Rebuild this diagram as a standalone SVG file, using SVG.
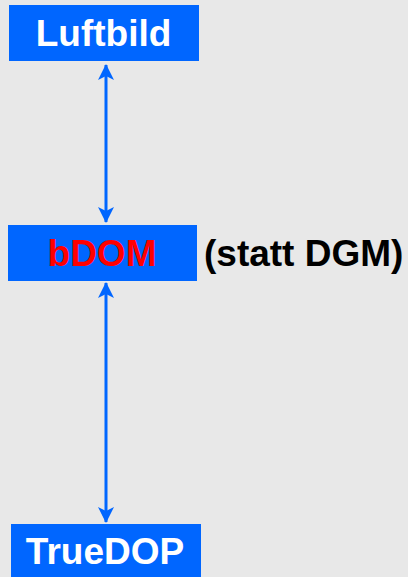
<svg xmlns="http://www.w3.org/2000/svg" width="408" height="577" viewBox="0 0 408 577">
  <style>
    .box { fill: #0066ff; }
    .lbl { font-family: "Liberation Sans", Arial, sans-serif; font-weight: bold; font-size: 37px; }
    .white { fill: #ffffff; }
    .conn { stroke: #0066ff; stroke-width: 3; fill: none; marker-start: url(#head); marker-end: url(#head); }
  </style>
  <defs>
    <marker id="head" viewBox="0 0 16 16" refX="15" refY="8" markerWidth="16" markerHeight="16" markerUnits="userSpaceOnUse" orient="auto-start-reverse">
      <path d="M0,0 L16,8 L0,16 L4,8 Z" fill="#0066ff"/>
    </marker>
  </defs>
  <rect width="408" height="577" fill="#e8e8e8"/>

  <g id="connectors">
    <line class="conn" x1="106" y1="65" x2="106" y2="222"/>
    <line class="conn" x1="106" y1="283" x2="106" y2="522"/>
  </g>

  <g id="luftbild">
    <rect class="box" x="9" y="5" width="190" height="56"/>
    <text class="lbl white" x="103.5" y="45.5" text-anchor="middle">Luftbild</text>
  </g>

  <g id="bdom">
    <rect class="box" x="8" y="225" width="189" height="56"/>
    <text class="lbl" x="102" y="265.5" text-anchor="middle" fill="#ff0000">bDOM</text>
    <text class="lbl" x="204" y="265.5" fill="#000000">(statt DGM)</text>
  </g>

  <g id="truedop">
    <rect class="box" x="11" y="524" width="190" height="60"/>
    <text class="lbl white" x="105" y="563.5" text-anchor="middle">TrueDOP</text>
  </g>
</svg>
